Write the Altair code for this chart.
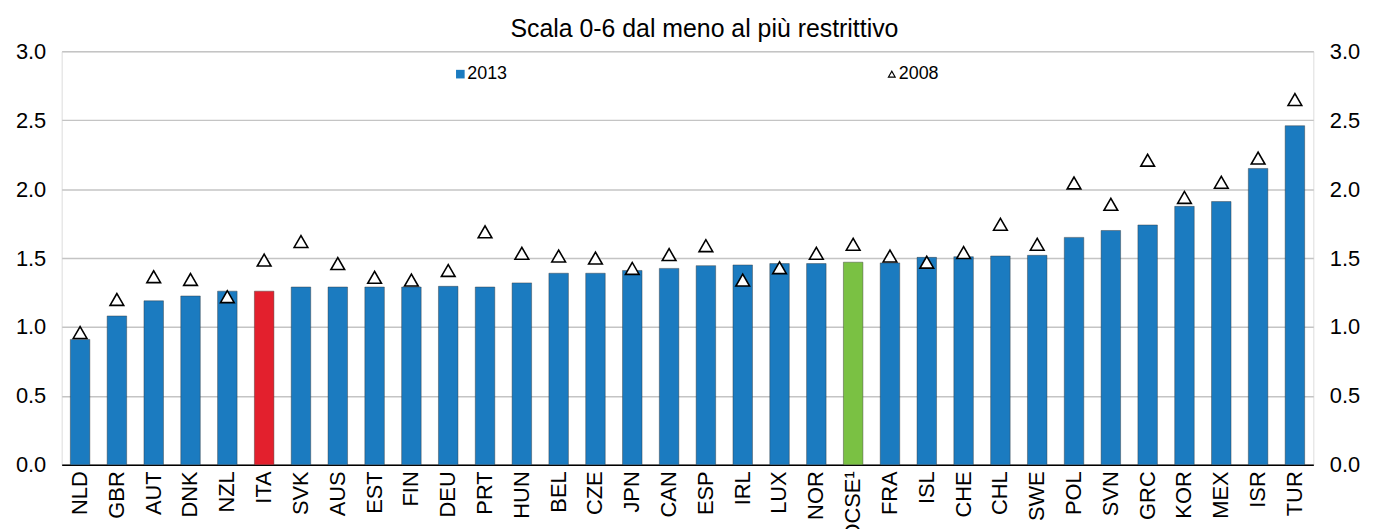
import altair as alt
import pandas as pd

countries = ["NLD", "GBR", "AUT", "DNK", "NZL", "ITA", "SVK", "AUS", "EST", "FIN", "DEU",
             "PRT", "HUN", "BEL", "CZE", "JPN", "CAN", "ESP", "IRL", "LUX", "NOR", "OCSE¹",
             "FRA", "ISL", "CHE", "CHL", "SWE", "POL", "SVN", "GRC", "KOR", "MEX", "ISR", "TUR"]
v2013 = [0.91, 1.08, 1.19, 1.225, 1.26, 1.26, 1.29, 1.29, 1.29, 1.29, 1.295,
         1.29, 1.32, 1.39, 1.39, 1.41, 1.425, 1.445, 1.45, 1.46, 1.46, 1.47,
         1.465, 1.505, 1.51, 1.515, 1.52, 1.65, 1.70, 1.74, 1.875, 1.91, 2.15, 2.46]
v2008 = [0.96, 1.20, 1.365, 1.345, 1.22, 1.485, 1.62, 1.46, 1.36, 1.34, 1.41,
         1.69, 1.535, 1.515, 1.50, 1.425, 1.525, 1.59, 1.34, 1.43, 1.535, 1.60,
         1.515, 1.47, 1.54, 1.745, 1.60, 2.045, 1.89, 2.21, 1.94, 2.05, 2.225, 2.65]
highlight = {"ITA": "ITA", "OCSE¹": "OCSE"}
y_ticks = [0.0, 0.5, 1.0, 1.5, 2.0, 2.5, 3.0]

df = pd.DataFrame({
    "country": countries,
    "v2013": v2013,
    "v2008": v2008,
    "group": [highlight.get(c, "other") for c in countries],
})

FONT = "Liberation Sans"
BLUE = "#1b7bc0"

xenc = alt.X("country:N", sort=countries,
             scale=alt.Scale(paddingInner=0.47, paddingOuter=0.235),
             axis=alt.Axis(title=None, labelAngle=-90, labelAlign="right", labelBaseline="middle",
                           labelFont=FONT, labelFontSize=22, labelColor="#000",
                           labelPadding=6, ticks=False, domainColor="#000", domainWidth=1.5,
                           labelOverlap=False))

yscale = alt.Scale(domain=[0, 3], nice=False, zero=True)

bars = alt.Chart(df).mark_bar(stroke="#333333", strokeWidth=0.6, strokeOpacity=0.7).encode(
    x=xenc,
    y=alt.Y("v2013:Q", scale=yscale,
            axis=alt.Axis(title=None, orient="left", values=y_ticks, format=".1f",
                          labelFont=FONT, labelFontSize=22, labelColor="#000",
                          labelPadding=16, ticks=False, domain=False,
                          grid=True, gridColor="#c4c4c4", gridWidth=1.5)),
    color=alt.Color("group:N", scale=alt.Scale(domain=["other", "ITA", "OCSE"],
                                                 range=[BLUE, "#e3202d", "#7ac143"]),
                    legend=None),
)

points = alt.Chart(df).mark_point(shape="triangle-up", size=190, filled=True, fill="white",
                                  stroke="#000", strokeWidth=1.6, opacity=1).encode(
    x=alt.X("country:N", sort=countries),
    y=alt.Y("v2008:Q", scale=yscale,
            axis=alt.Axis(title=None, orient="right", values=y_ticks, format=".1f",
                          labelFont=FONT, labelFontSize=22, labelColor="#000",
                          labelPadding=16, ticks=False, domain=False, grid=False)),
)

one = pd.DataFrame({"k": [0]})
leg_sq = alt.Chart(one).mark_square(size=75, color=BLUE, opacity=1).encode(
    x=alt.value(401), y=alt.value(23))
leg_sq_t = alt.Chart(one).mark_text(
    text="2013", font=FONT, fontSize=18, align="left", baseline="middle", color="#000").encode(
    x=alt.value(408), y=alt.value(23))
leg_tri = alt.Chart(one).mark_point(
    shape="triangle-up", size=45, filled=True, fill="white", stroke="#000", strokeWidth=1.2,
    opacity=1).encode(x=alt.value(835), y=alt.value(23))
leg_tri_t = alt.Chart(one).mark_text(
    text="2008", font=FONT, fontSize=18, align="left", baseline="middle", color="#000").encode(
    x=alt.value(842), y=alt.value(23))

chart = alt.layer(bars, points, leg_sq, leg_sq_t, leg_tri, leg_tri_t).resolve_scale(
    y="independent"
).properties(
    width=1259, height=416,
    title=alt.TitleParams("Scala 0-6 dal meno al più restrittivo", font=FONT, fontSize=25,
                          fontWeight="normal", color="#000", anchor="middle", offset=6,
                          dx=17, dy=8),
    autosize=alt.AutoSizeParams(type="none"),
    padding={"left": 54, "top": 42, "right": 54, "bottom": 63},
).configure_view(stroke=None).configure(background="white")

chart.save("out.html", embed_options={"renderer": "svg", "actions": False})
